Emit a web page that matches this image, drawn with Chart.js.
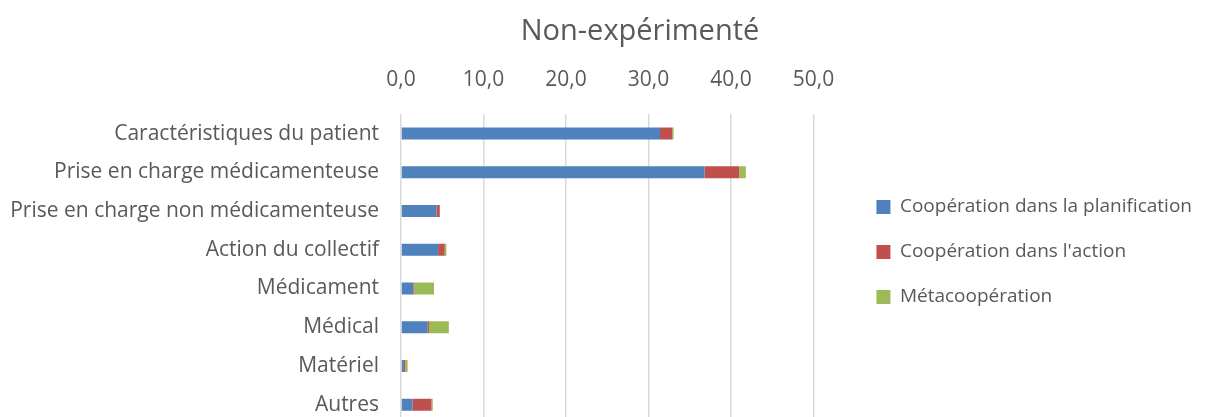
<!DOCTYPE html>
<html>
<head>
<meta charset="utf-8">
<script src="https://cdn.jsdelivr.net/npm/chart.js@4.4.1/dist/chart.umd.min.js"></script>
<style>
  html, body { margin: 0; padding: 0; background: #ffffff; overflow: hidden; }
  #wrap { position: relative; width: 1218px; height: 424px; }
</style>
</head>
<body>
<div id="wrap"><canvas id="c"></canvas></div>
<script>
const chartTitle = "Non-expérimenté";
const categories = [
  "Caractéristiques du patient",
  "Prise en charge médicamenteuse",
  "Prise en charge non médicamenteuse",
  "Action du collectif",
  "Médicament",
  "Médical",
  "Matériel",
  "Autres"
];
const seriesNames = ["Coopération dans la planification", "Coopération dans l'action", "Métacoopération"];
const planification = [31.4, 36.8, 4.3, 4.5, 1.5, 3.2, 0.35, 1.4];
const actionVals = [1.5, 4.2, 0.4, 0.8, 0.1, 0.2, 0.15, 2.3];
const meta = [0.15, 0.8, 0.0, 0.2, 2.4, 2.4, 0.3, 0.15];
const xTicks = [0, 10, 20, 30, 40, 50];

const FONT = "'Open Sans', sans-serif";
const TXT = "#595959";

const titlePlugin = {
  id: 'customTitle',
  afterDraw(chart) {
    const ctx = chart.ctx;
    ctx.save();
    ctx.font = "29px " + FONT;
    ctx.fillStyle = TXT;
    ctx.textAlign = 'center';
    ctx.textBaseline = 'middle';
    ctx.fillText(chartTitle, 640, 32);
    ctx.restore();
  }
};

new Chart(document.getElementById('c'), {
  type: 'bar',
  data: {
    labels: categories,
    datasets: [
      { label: seriesNames[0], data: planification, backgroundColor: '#4f81bd' },
      { label: seriesNames[1], data: actionVals, backgroundColor: '#c0504d' },
      { label: seriesNames[2], data: meta, backgroundColor: '#9bbb59' }
    ]
  },
  plugins: [titlePlugin],
  options: {
    indexAxis: 'y',
    responsive: true,
    maintainAspectRatio: false,
    animation: false,
    layout: { padding: { top: 45, right: 16, left: 0, bottom: 0 } },
    datasets: { bar: { categoryPercentage: 1.0, barPercentage: 0.31 } },
    scales: {
      x: {
        position: 'top',
        stacked: true,
        min: 0,
        max: 50,
        afterBuildTicks(scale) { scale.ticks = xTicks.map(v => ({ value: v })); },
        ticks: {
          padding: 22,
          color: TXT,
          font: { family: FONT, size: 21 },
          callback: v => Number(v).toFixed(1).replace('.', ',')
        },
        grid: { color: '#d9d9d9', lineWidth: 1.5, drawTicks: false },
        border: { display: false }
      },
      y: {
        stacked: true,
        afterFit(scale) {
          scale.width = 401;
          scale.paddingTop = 0;
          scale.paddingBottom = 0;
        },
        ticks: {
          padding: 22,
          color: TXT,
          font: { family: FONT, size: 21 }
        },
        grid: { display: false, drawTicks: false },
        border: { display: false }
      },
      gap: {
        type: 'linear',
        position: 'right',
        display: true,
        afterFit(scale) {
          scale.width = 37;
          scale.paddingTop = 0;
          scale.paddingBottom = 0;
        },
        ticks: { display: false },
        grid: { display: false, drawTicks: false },
        border: { display: false }
      }
    },
    plugins: {
      title: { display: false },
      tooltip: { enabled: false },
      legend: {
        position: 'right',
        align: 'start',
        maxWidth: 420,
        title: { display: true, text: ' ', font: { size: 12 }, padding: { top: 112, bottom: 0 } },
        labels: {
          boxWidth: 14,
          boxHeight: 14,
          padding: 26,
          color: TXT,
          font: { family: FONT, size: 19 }
        }
      }
    }
  }
});
</script>
</body>
</html>
